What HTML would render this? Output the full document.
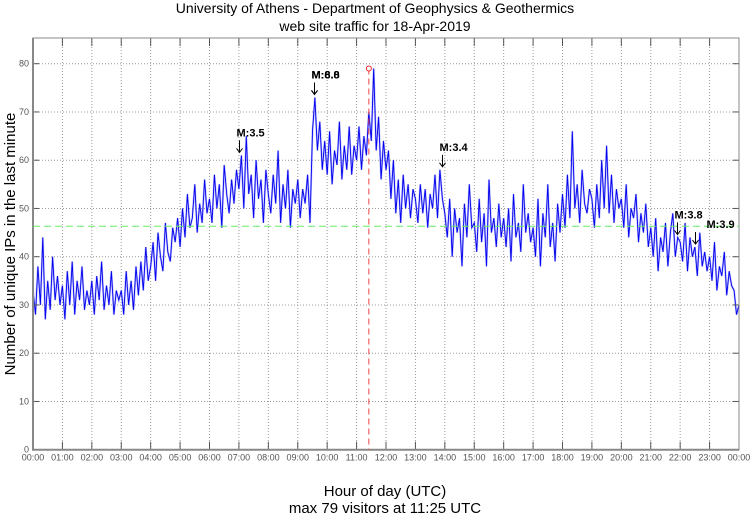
<!DOCTYPE html>
<html><head><meta charset="utf-8"><style>
body{margin:0;background:#fff;width:750px;height:515px;overflow:hidden}
svg{display:block;font-family:"Liberation Sans",sans-serif}
</style></head><body>
<svg id="chart" width="750" height="515" viewBox="0 0 750 515" xmlns="http://www.w3.org/2000/svg">
<text x="375" y="13" text-anchor="middle" font-size="14">University of Athens - Department of Geophysics &amp; Geothermics</text>
<text x="375" y="31" text-anchor="middle" font-size="14">web site traffic for 18-Apr-2019</text>
<text x="385" y="496" text-anchor="middle" font-size="15">Hour of day (UTC)</text>
<text x="385" y="513" text-anchor="middle" font-size="15">max 79 visitors at 11:25 UTC</text>
<text transform="translate(15,244) rotate(-90)" text-anchor="middle" font-size="15">Number of unique IPs in the last minute</text>
<g id="grid"></g><g id="series"></g><g id="axes"></g><g id="marks"></g>
</svg>
<script>
const yTicks=[0,10,20,30,40,50,60,70,80];
const xTickLabels=["00:00","01:00","02:00","03:00","04:00","05:00","06:00","07:00","08:00","09:00","10:00","11:00","12:00","13:00","14:00","15:00","16:00","17:00","18:00","19:00","20:00","21:00","22:00","23:00","00:00"];
const visitors=[
33,28,38,30,44,27,35,29,40,31,36,30,
34,27,37,30,39,28,35,31,38,29,33,30,
35,28,36,31,39,29,34,30,37,28,33,31,
33,28,37,30,35,29,38,32,39,33,42,35,
38,43,35,45,40,37,47,41,39,46,43,48,
42,50,44,53,46,48,55,45,51,47,56,49,
52,47,57,50,55,46,59,53,49,56,51,58,
54,61,50,65,53,57,48,60,52,56,47,58,
53,49,57,51,62,47,55,50,58,46,54,51,
56,48,54,51,57,47,66,73,62,68,58,64,
57,66,55,62,59,68,56,63,58,67,57,63,
60,67,58,65,61,70,64,79,62,69,56,64,
58,62,52,60,49,56,47,57,50,55,48,54,
52,47,55,49,54,46,53,50,57,48,58,52,
49,44,52,40,50,45,48,38,51,44,55,46,
47,41,52,43,49,38,56,45,48,42,51,44,
48,42,50,39,53,44,47,41,55,45,49,43,
46,40,52,38,49,44,55,42,47,39,51,45,
53,46,57,48,66,50,55,47,58,51,49,54,
52,46,55,48,60,50,63,49,57,47,54,50,
52,46,55,44,50,48,53,43,49,45,51,42,
46,40,48,37,44,41,47,38,45,49,40,44,
43,39,47,37,44,40,42,36,45,38,41,37,
40,35,43,33,38,36,41,32,37,34,33,28,30];
const meanValue=[46.3];
const maxPoint=[11+25/60,79];
const quakeLabels=["M:3.5","M:8.8","M:6.0","M:3.4","M:3.8","M:3.9"];
const quakeHours=[7.0,9.55,9.55,13.9,21.9,22.5];

const L=33,R=739,T=38,B=449.7;
const xs=h=>L+h*(R-L)/24, ys=v=>B-v*4.825;
const NS="http://www.w3.org/2000/svg";
function mk(parent,tag,attrs){const e=document.createElementNS(NS,tag);for(const k in attrs)e.setAttribute(k,attrs[k]);document.getElementById(parent).appendChild(e);return e;}

yTicks.forEach((v,i)=>{
 if(v>0){const g=mk('grid','line',{x1:L,x2:R,y1:ys(v),y2:ys(v),stroke:'#999','stroke-dasharray':'1,2','stroke-width':1});
 
 }
 const t=mk('axes','text',{x:L-4,y:ys(v)+3,'text-anchor':'end','font-size':9,fill:'#555'});t.textContent=v;
 
 
 const tk=mk('axes','line',{x1:L,x2:L+6,y1:ys(v),y2:ys(v),stroke:'#555'});
 
 
 const tk2=mk('axes','line',{x1:R,x2:R-6,y1:ys(v),y2:ys(v),stroke:'#555'});
 
 
});
xTickLabels.forEach((s,i)=>{
 const x=xs(i);
 if(i>0&&i<24){const g=mk('grid','line',{x1:x,x2:x,y1:T,y2:B,stroke:'#999','stroke-dasharray':'1,2'});
 
 }
 const t=mk('axes','text',{x:x,y:B+11,'text-anchor':'middle','font-size':9,fill:'#555'});t.textContent=s;
 
 
 const tk=mk('axes','line',{x1:x,x2:x,y1:B,y2:B-8,stroke:'#555'});
 
 
 const tk2=mk('axes','line',{x1:x,x2:x,y1:T,y2:T+8,stroke:'#555'});
 
 
});
const frame=mk('axes','rect',{x:L,y:T,width:R-L,height:B-T,fill:'none',stroke:'#888','stroke-width':1});


const la=mk('axes','path',{d:`M${L},${T} V${B} H${R}`,fill:'none',stroke:'#888','stroke-width':2});



const n=visitors.length-1;
const pts=visitors.map((v,i)=>xs(i*24/n).toFixed(1)+','+ys(v).toFixed(1)).join(' ');
const line2=mk('series','polyline',{points:pts,fill:'none',stroke:'#7070ff','stroke-width':2,opacity:0.45});


const line=mk('series','polyline',{points:pts,fill:'none',stroke:'#0000ee','stroke-width':0.9});



const ml=mk('marks','line',{x1:L,x2:R,y1:ys(meanValue[0]),y2:ys(meanValue[0]),stroke:'#66ee66','stroke-dasharray':'7,4','stroke-width':1});


const rl=mk('marks','line',{x1:xs(maxPoint[0]),x2:xs(maxPoint[0]),y1:ys(maxPoint[1]),y2:B,stroke:'#ee4444','stroke-dasharray':'6,4','stroke-width':1});


const rc=mk('marks','circle',{cx:xs(maxPoint[0]),cy:ys(maxPoint[1]),r:2.5,fill:'#fff',stroke:'#ee2222'});



quakeLabels.forEach((s,i)=>{
 const h=quakeHours[i];
 const idx=Math.round(h*n/24);
 const v=Math.max(visitors[idx],visitors[idx-1]||0,visitors[idx+1]||0);
 const x=Math.round(xs(h))+0.5,y0=ys(v)-3;
 const a=mk('marks','path',{d:`M${x},${y0-12} V${y0} M${x-3},${y0-4} L${x},${y0} L${x+3},${y0-4}`,fill:'none',stroke:'#000','stroke-width':1});
 
 
 const dx=(i===5)?14:0;
 const t=mk('marks','text',{x:x-3+dx,y:y0-16,'font-size':11,'font-weight':'bold'});t.textContent=s;
 
 
});
</script>
</body></html>
